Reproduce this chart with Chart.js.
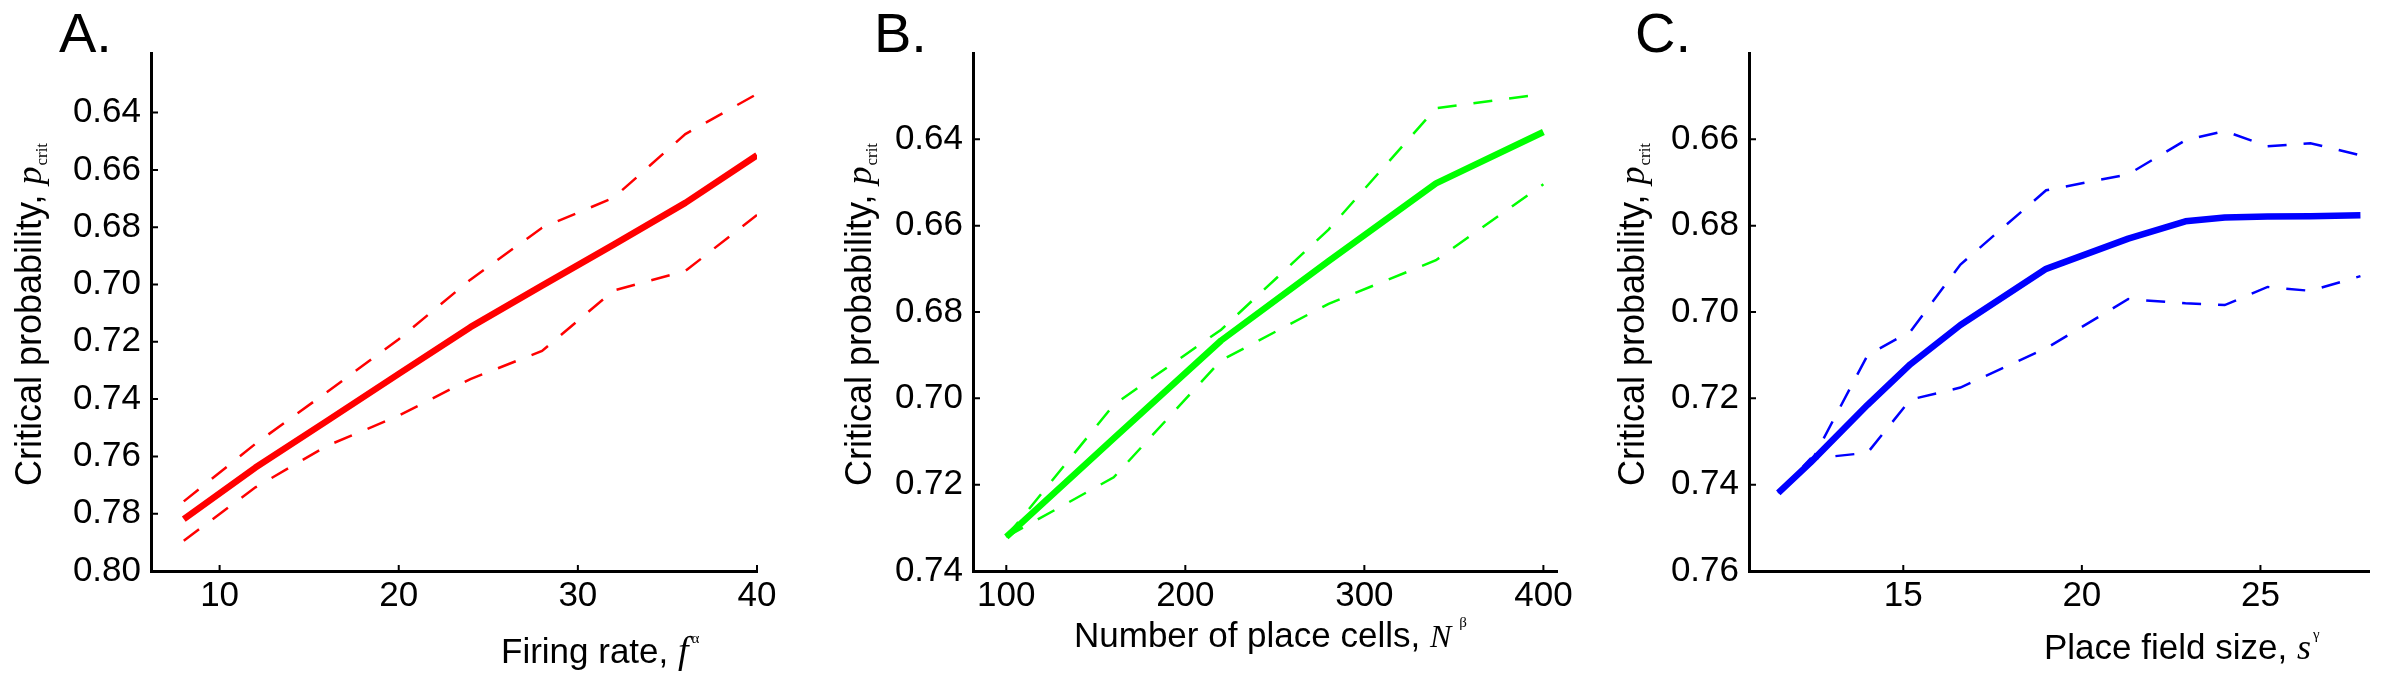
<!DOCTYPE html>
<html>
<head>
<meta charset="utf-8">
<script src="https://cdn.jsdelivr.net/npm/chart.js@4.4.1/dist/chart.umd.min.js"></script>
<style>
  body { margin: 0; background: #fff; width: 2384px; height: 680px; overflow: hidden; }
  canvas { position: absolute; top: 0; }
</style>
</head>
<body>
<canvas id="chartA" width="800" height="680" style="left:0px"></canvas>
<canvas id="chartB" width="780" height="680" style="left:800px"></canvas>
<canvas id="chartC" width="804" height="680" style="left:1580px"></canvas>
<script>
// Panel A: firing rate
const firingRate = [8, 12, 16, 20, 24, 28, 32, 36, 40];
const rateMean  = [0.7819, 0.7639, 0.7476, 0.7312, 0.7149, 0.7004, 0.6861, 0.6715, 0.6549];
const rateUpper = [0.7757, 0.7556, 0.7375, 0.7191, 0.6983, 0.6802, 0.6697, 0.6475, 0.6335];
const rateLower = [0.7894, 0.7708, 0.7563, 0.7458, 0.7330, 0.7232, 0.7021, 0.6953, 0.6757];
const rateTicksX = [10, 20, 30, 40];
const rateTicksY = [0.64, 0.66, 0.68, 0.70, 0.72, 0.74, 0.76, 0.78, 0.80];

// Panel B: number of place cells
const cellCount = [100, 160, 220, 280, 340, 400];
const cellMean  = [0.7321, 0.7093, 0.6866, 0.6682, 0.6502, 0.6383];
const cellUpper = [0.7321, 0.7015, 0.6841, 0.6609, 0.6328, 0.6295];
const cellLower = [0.7321, 0.7183, 0.6912, 0.6781, 0.6680, 0.6504];
const cellTicksX = [100, 200, 300, 400];
const cellTicksY = [0.64, 0.66, 0.68, 0.70, 0.72, 0.74];

// Panel C: place field size
const fieldSize  = [11.5, 12.4, 14.0, 15.2, 16.6, 19.0, 21.3, 22.9, 24.0, 25.2, 26.4, 27.8];
const fieldMean  = [0.7419, 0.7349, 0.7215, 0.7121, 0.7030, 0.6900, 0.6830, 0.6790, 0.6781, 0.6779, 0.6778, 0.6776];
const fieldUpper = [0.7419, 0.7351, 0.7100, 0.7045, 0.6890, 0.6718, 0.6681, 0.6602, 0.6581, 0.6616, 0.6609, 0.6637];
const fieldLower = [0.7419, 0.7340, 0.7326, 0.7203, 0.7175, 0.7084, 0.6970, 0.6980, 0.6984, 0.6942, 0.6951, 0.6917];
const fieldTicksX = [15, 20, 25];
const fieldTicksY = [0.66, 0.68, 0.70, 0.72, 0.74, 0.76];

const SANS = '"Liberation Sans", Arial, Helvetica, sans-serif';
const SERIF = '"Liberation Serif", "Times New Roman", serif';

// matlab style ticks pointing into the plot
const innerTicks = {
  id: 'innerTicks',
  afterDraw(chart) {
    const {ctx, chartArea, scales} = chart;
    ctx.save();
    ctx.strokeStyle = '#000';
    ctx.lineWidth = 2;
    ctx.beginPath();
    scales.x.ticks.forEach(t => {
      const px = scales.x.getPixelForValue(t.value);
      ctx.moveTo(px, chartArea.bottom);
      ctx.lineTo(px, chartArea.bottom - 6);
    });
    scales.y.ticks.forEach(t => {
      const py = scales.y.getPixelForValue(t.value);
      ctx.moveTo(chartArea.left, py);
      ctx.lineTo(chartArea.left + 7, py);
    });
    ctx.stroke();
    ctx.restore();
  }
};

// panel letter and axis titles with italic symbols
const panelText = {
  id: 'panelText',
  afterDraw(chart, args, o) {
    const ctx = chart.ctx;
    ctx.save();
    ctx.fillStyle = '#000';
    ctx.textBaseline = 'alphabetic';
    ctx.textAlign = 'left';

    ctx.font = '56px ' + SANS;
    ctx.fillText(o.letter, o.letterX, 52);

    // x title
    let x = o.xTitleX;
    ctx.font = '35px ' + SANS;
    ctx.fillText(o.xText, x, o.xTitleY);
    x += ctx.measureText(o.xText).width;
    ctx.font = 'italic ' + o.symSize + 'px ' + SERIF;
    ctx.fillText(o.sym, x, o.xTitleY);
    x += ctx.measureText(o.sym).width + o.supGap;
    ctx.font = '15px ' + SERIF;
    ctx.fillText(o.sup, x, o.xTitleY - 20);

    // y title, rotated
    ctx.translate(o.yTitleX, 486);
    ctx.rotate(-Math.PI / 2);
    let y = 0;
    const yText = 'Critical probability, ';
    ctx.font = '36px ' + SANS;
    ctx.fillText(yText, y, 0);
    y += ctx.measureText(yText).width;
    ctx.font = 'italic 36px ' + SERIF;
    ctx.fillText('p', y, 0);
    y += ctx.measureText('p').width + 1;
    ctx.font = '17px ' + SERIF;
    ctx.fillText('crit', y, 6);
    ctx.restore();
  }
};

function makePanel(id, xs, mean, upper, lower, color, cfg) {
  const pts = arr => xs.map((v, i) => ({x: v, y: arr[i]}));
  const dashed = {
    borderColor: color, borderWidth: 2.5, borderDash: [19, 17],
    pointRadius: 0, fill: false, tension: 0, borderCapStyle: 'butt'
  };
  return new Chart(document.getElementById(id), {
    type: 'line',
    data: {
      datasets: [
        {data: pts(mean), borderColor: color, borderWidth: 6.5, pointRadius: 0, fill: false, tension: 0, borderJoinStyle: 'round'},
        Object.assign({data: pts(upper)}, dashed),
        Object.assign({data: pts(lower)}, dashed)
      ]
    },
    options: {
      responsive: false,
      animation: false,
      devicePixelRatio: 1,
      layout: {padding: {left: cfg.padLeft, right: cfg.padRight, top: 53, bottom: 39}},
      plugins: {
        legend: {display: false},
        tooltip: {enabled: false},
        panelText: cfg.text
      },
      scales: {
        x: {
          type: 'linear',
          min: cfg.xMin, max: cfg.xMax,
          afterBuildTicks: s => { s.ticks = cfg.ticksX.map(v => ({value: v})); },
          afterFit: s => { s.height = 70; },
          grid: {display: false, drawTicks: false},
          border: {display: true, color: '#000', width: 3},
          ticks: {autoSkip: false, maxRotation: 0, padding: 4, color: '#000',
                  font: {family: SANS, size: 35}, callback: v => String(v)}
        },
        y: {
          type: 'linear',
          reverse: true,
          min: cfg.yMin, max: cfg.yMax,
          afterBuildTicks: s => { s.ticks = cfg.ticksY.map(v => ({value: v})); },
          afterFit: s => { s.width = 100; },
          grid: {display: false, drawTicks: false},
          border: {display: true, color: '#000', width: 3},
          ticks: {autoSkip: false, padding: 10, color: '#000',
                  font: {family: SANS, size: 35}, callback: v => v.toFixed(2)}
        }
      }
    },
    plugins: [innerTicks, panelText]
  });
}

makePanel('chartA', firingRate, rateMean, rateUpper, rateLower, '#ff0000', {
  padLeft: 51, padRight: 43, xMin: 6.17, xMax: 40, yMin: 0.6192, yMax: 0.80,
  ticksX: rateTicksX, ticksY: rateTicksY,
  text: {letter: 'A.', letterX: 59, xTitleX: 501, xTitleY: 663, xText: 'Firing rate, ',
         sym: 'f', symSize: 38, supGap: 3, sup: 'α', yTitleX: 41}
});

makePanel('chartB', cellCount, cellMean, cellUpper, cellLower, '#00ff00', {
  padLeft: 73, padRight: 23, xMin: 81.4, xMax: 407.6, yMin: 0.62, yMax: 0.74,
  ticksX: cellTicksX, ticksY: cellTicksY,
  text: {letter: 'B.', letterX: 74, xTitleX: 274, xTitleY: 647, xText: 'Number of place cells, ',
         sym: 'N', symSize: 32, supGap: 8, sup: 'β', yTitleX: 71}
});

makePanel('chartC', fieldSize, fieldMean, fieldUpper, fieldLower, '#0000ff', {
  padLeft: 69, padRight: 15, xMin: 10.68, xMax: 28.04, yMin: 0.64, yMax: 0.76,
  ticksX: fieldTicksX, ticksY: fieldTicksY,
  text: {letter: 'C.', letterX: 55, xTitleX: 464, xTitleY: 659, xText: 'Place field size, ',
         sym: 's', symSize: 36, supGap: 2, sup: 'γ', yTitleX: 64}
});
</script>
</body>
</html>
